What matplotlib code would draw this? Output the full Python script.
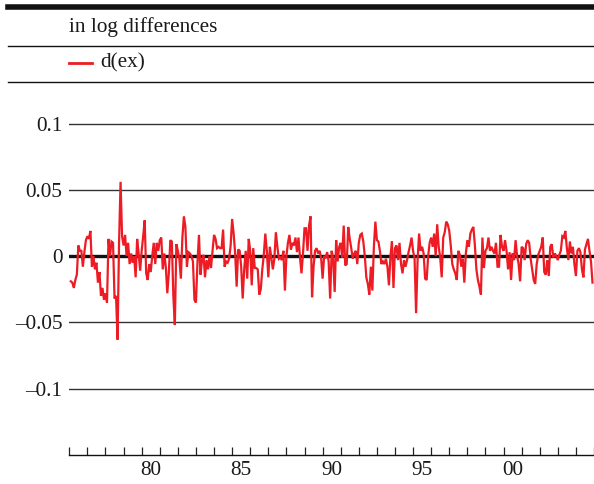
import matplotlib
matplotlib.use("Agg")
import matplotlib.pyplot as plt
from matplotlib.lines import Line2D
import numpy as np
import pandas as pd

# ---- data (monthly log differences) ----
start_month = "1976-02"
v1976 = [-0.019, -0.020, -0.024, -0.018, -0.014, 0.008, 0.004, 0.004, -0.008, 0.003, 0.012]
v1977 = [0.015, 0.013, 0.019, -0.008, 0.000, -0.010, -0.005, -0.020, -0.012, -0.030, -0.024, -0.033]
v1978 = [-0.028, -0.035, 0.013, 0.000, 0.011, 0.010, -0.032, -0.030, -0.063, 0.010, 0.056, 0.015]
v1979 = [0.008, 0.016, 0.000, 0.010, -0.006, 0.002, -0.005, 0.000, -0.016, 0.013, 0.002, -0.011]
v1980 = [0.004, 0.015, 0.027, -0.013, -0.018, -0.006, -0.012, 0.000, 0.010, -0.006, 0.010, 0.004]
v1981 = [0.012, 0.014, -0.010, 0.002, -0.008, -0.028, -0.013, 0.012, 0.011, -0.030, -0.052, 0.009]
v1982 = [0.004, -0.002, -0.017, 0.014, 0.030, 0.022, -0.008, 0.003, 0.002, 0.000, -0.004, -0.033]
v1983 = [-0.035, -0.005, 0.016, -0.014, -0.003, 0.001, -0.016, -0.003, -0.010, 0.000, -0.009, 0.004]
v1984 = [0.016, 0.013, 0.006, 0.007, 0.006, 0.006, 0.020, -0.008, -0.004, -0.005, -0.002, 0.008]
v1985 = [0.028, 0.017, 0.002, -0.023, 0.005, 0.004, -0.008, -0.032, -0.010, 0.004, -0.017, 0.013]
v1986 = [0.004, -0.022, 0.006, -0.009, -0.009, -0.010, -0.029, -0.025, -0.010, 0.001, 0.017, 0.004]
v1987 = [-0.016, 0.007, -0.001, -0.010, -0.002, 0.018, 0.007, -0.002, -0.001, -0.003, 0.004, -0.026]
v1988 = [0.000, 0.010, 0.016, 0.005, 0.010, 0.008, 0.014, 0.003, 0.014, -0.001, -0.013, 0.002]
v1989 = [0.021, 0.021, 0.004, 0.023, 0.030, -0.031, -0.008, 0.004, 0.006, 0.002, 0.004, -0.001]
v1990 = [-0.017, 0.000, -0.001, 0.003, -0.004, -0.032, 0.004, -0.002, -0.027, 0.012, -0.004, 0.007]
v1991 = [0.010, -0.001, 0.023, -0.007, -0.006, 0.022, 0.013, 0.006, -0.002, 0.002, 0.004, -0.006]
v1992 = [0.010, 0.016, 0.017, 0.011, 0.000, -0.016, -0.021, -0.029, -0.008, -0.026, 0.007, 0.026]
v1993 = [0.012, 0.011, 0.004, -0.006, -0.004, -0.006, -0.002, -0.008, -0.022, 0.000, 0.011, -0.024]
v1994 = [0.006, 0.008, -0.003, 0.010, -0.006, -0.013, -0.003, -0.008, -0.003, 0.003, 0.008, 0.014]
v1995 = [0.004, -0.002, -0.043, -0.003, 0.017, 0.004, 0.007, 0.002, -0.017, -0.018, 0.000, 0.010]
v1996 = [0.014, 0.007, 0.017, 0.000, 0.024, 0.007, -0.001, -0.016, 0.014, 0.018, 0.026, 0.024]
v1997 = [0.019, 0.008, -0.006, -0.010, -0.013, -0.018, 0.004, 0.001, -0.008, -0.002, -0.020, 0.002]
v1998 = [0.012, 0.007, 0.017, 0.020, 0.022, 0.008, -0.010, -0.018, -0.023, -0.029, 0.014, -0.009]
v1999 = [0.004, 0.006, 0.014, 0.004, 0.007, 0.004, 0.002, 0.010, -0.008, -0.008, 0.016, 0.007]
v2000 = [0.004, 0.012, 0.004, -0.010, 0.003, -0.018, 0.002, -0.003, 0.012, 0.000, -0.006, -0.019]
v2001 = [0.007, 0.006, -0.003, 0.009, 0.012, 0.010, -0.002, -0.010, -0.018, -0.021, -0.006, 0.001]
v2002 = [0.004, 0.007, 0.014, -0.012, -0.014, -0.003, -0.015, 0.007, 0.009, -0.001, 0.002, 0.000]
v2003 = [-0.003, 0.001, 0.004, 0.015, 0.014, 0.019, 0.006, -0.003, 0.011, 0.002, 0.007, -0.006]
v2004 = [-0.015, 0.004, 0.006, 0.003, -0.010, -0.016, 0.005, 0.009, 0.013, 0.004, -0.004, -0.020]

year_tick_positions = list(range(1976, 2006))
year_labels = ["80", "85", "90", "95", "00"]
year_label_years = [1980, 1985, 1990, 1995, 2000]
y_ticks = [-0.1, -0.05, 0.0, 0.05, 0.1]
y_tick_labels = ["\u20130.1", "\u20130.05", "0", "0.05", "0.1"]
series_name = "d(ex)"
header_text = "in log differences"

values = (v1976 + v1977 + v1978 + v1979 + v1980 + v1981 + v1982 + v1983 + v1984 + v1985
          + v1986 + v1987 + v1988 + v1989 + v1990 + v1991 + v1992 + v1993 + v1994 + v1995
          + v1996 + v1997 + v1998 + v1999 + v2000 + v2001 + v2002 + v2003 + v2004)
periods = pd.period_range(start=start_month, periods=len(values), freq="M")
x = np.array([p.year + (p.month - 1) / 12.0 for p in periods])

# ---- figure ----
plt.rcParams["font.family"] = ["Liberation Serif", "DejaVu Serif"]
FS = 15.3
RED = "#ED1C24"
TXT = "#1a1a1a"
W, H = 594, 484
fig = plt.figure(figsize=(W / 100, H / 100), dpi=100)

ax = fig.add_axes([69.3 / W, 29 / H, (W - 69.3) / W, 358 / H])
ax.set_xlim(1976, 2005)
ax.set_ylim(-0.15, 0.12)

for yt in y_ticks:
    if yt == 0:
        ax.axhline(yt, color="#111111", lw=2.4, zorder=1)
    else:
        ax.axhline(yt, color="#333333", lw=1.0, zorder=1)

ax.plot(x, values, color=RED, lw=1.6, zorder=3, solid_joinstyle="miter")

for s in ["left", "top", "right"]:
    ax.spines[s].set_visible(False)
ax.spines["bottom"].set_color("#111111")
ax.spines["bottom"].set_linewidth(1.0)

ax.set_yticks(y_ticks)
ax.set_yticklabels(y_tick_labels, fontsize=FS)
ax.tick_params(axis="y", length=0, pad=5, colors=TXT)

ax.set_xticks(year_tick_positions)
ax.set_xticklabels([])
ax.tick_params(axis="x", which="major", direction="in", length=5.5, width=0.9, color="#222222")
ax.set_xticks([yr + 0.5 for yr in year_label_years], minor=True)
ax.set_xticklabels(year_labels, minor=True, fontsize=FS)
ax.tick_params(axis="x", which="minor", length=0, pad=4, colors=TXT)

# ---- header ----
def hline(ypix, lw):
    fig.add_artist(Line2D([8 / W, 1.0], [1 - ypix / H, 1 - ypix / H], color="#111111",
                          lw=lw, transform=fig.transFigure))

hline(6.5, 4.0)
hline(46, 1.0)
hline(82, 1.0)
fig.text(69 / W, 1 - 27 / H, header_text, fontsize=FS, va="center", ha="left", color=TXT)
fig.add_artist(Line2D([69 / W, 92 / W], [1 - 63 / H, 1 - 63 / H], color=RED, lw=2.0,
                      transform=fig.transFigure))
fig.text(100 / W, 1 - 63 / H, series_name, fontsize=FS, va="center", ha="left", color=TXT)

fig.savefig("out.png", dpi=100)
